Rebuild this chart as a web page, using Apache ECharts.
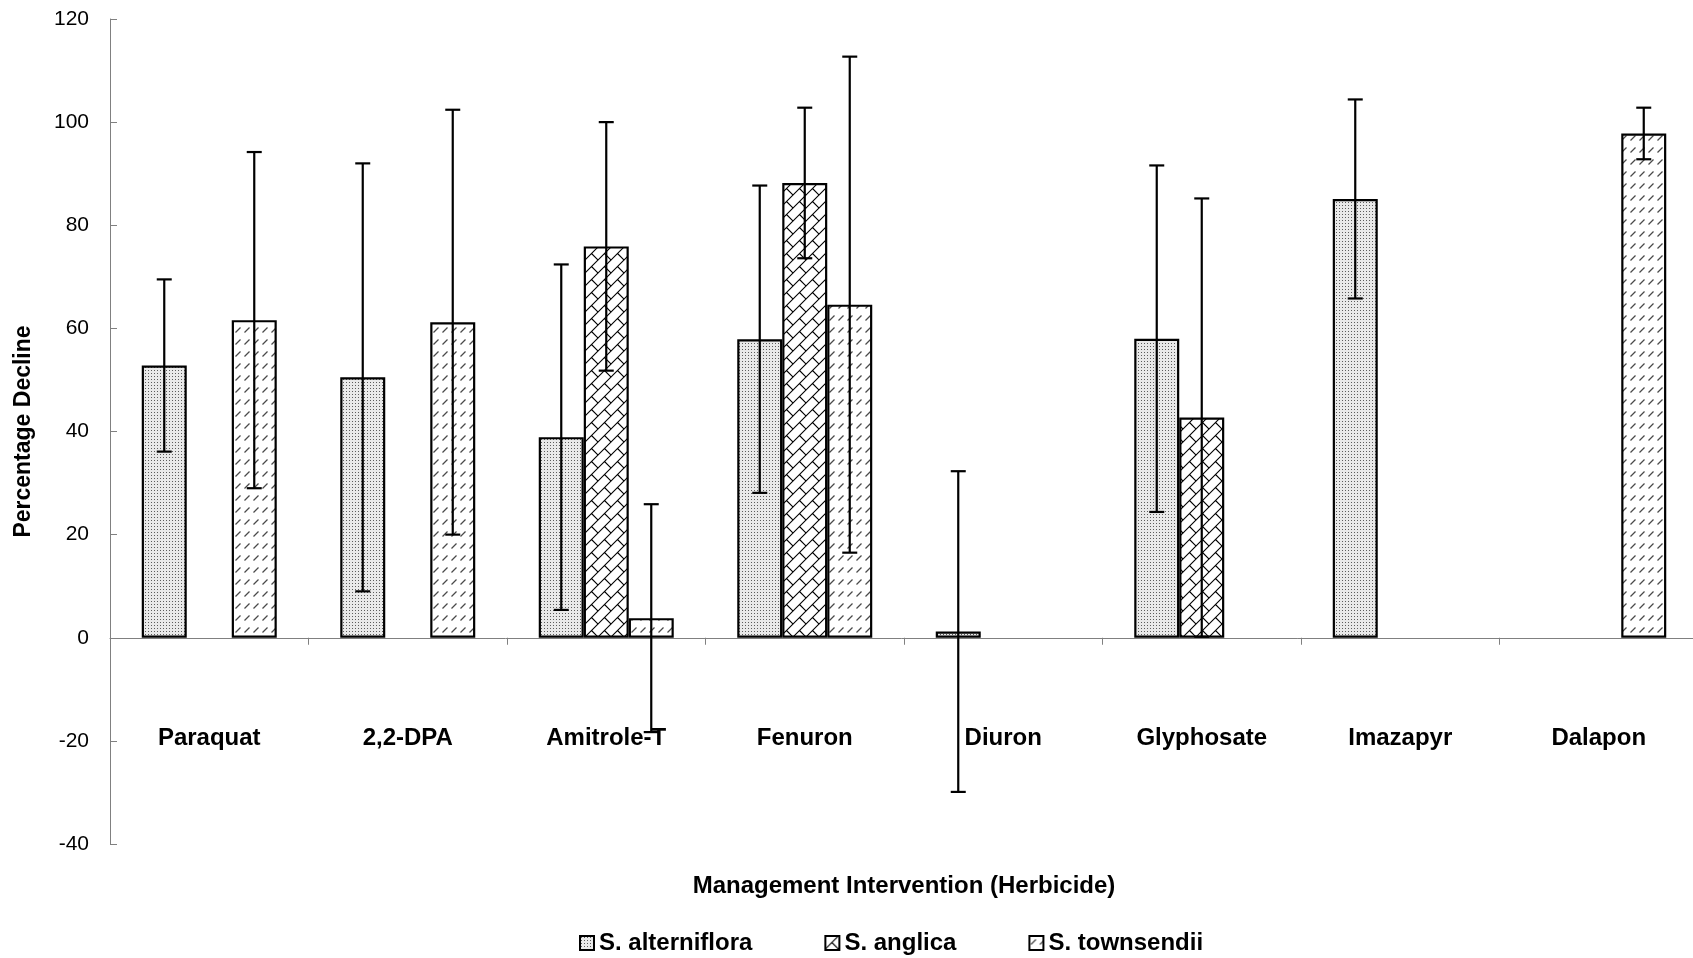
<!DOCTYPE html>
<html>
<head>
<meta charset="utf-8">
<script src="https://cdn.jsdelivr.net/npm/echarts@6/dist/echarts.min.js"></script>
<style>
  html, body { margin: 0; padding: 0; background: #fff; }
  #chart { width: 1693px; height: 958px; }
</style>
</head>
<body>
<div id="chart"></div>
<script>
// Herbicide treatments and mean percentage decline (with error) for each Spartina species
const categories = ['Paraquat', '2,2-DPA', 'Amitrole-T', 'Fenuron', 'Diuron', 'Glyphosate', 'Imazapyr', 'Dalapon'];
const speciesNames = ['S. alterniflora', 'S. anglica', 'S. townsendii'];

const alterniflora    = [52.8, 50.5, 38.9, 57.9, 1.2, 58.0, 85.1, null];
const alternifloraErr = [16.7, 41.5, 33.5, 29.8, 31.1, 33.6, 19.3, null];

const anglica    = [null, null, 75.9, 88.2, null, 42.7, null, null];
const anglicaErr = [null, null, 24.1, 14.6, null, 42.5, null, null];

const townsendii    = [61.6, 61.2, 3.8, 64.6, null, null, null, 97.8];
const townsendiiErr = [32.6, 41.2, 22.1, 48.1, null, null, null, 5.0];

const yTicks = { min: -40, max: 120, interval: 20 };

// ---- fill patterns ----
function makeTile(w, h, draw) {
  const c = document.createElement('canvas');
  c.width = w; c.height = h;
  const ctx = c.getContext('2d');
  draw(ctx, w, h);
  return c;
}

// fine dotted grey
const dotTile = makeTile(3, 3, (ctx) => {
  ctx.fillStyle = '#e9e9e9';
  ctx.fillRect(0, 0, 3, 3);
  ctx.fillStyle = '#5c5c5c';
  ctx.fillRect(1, 1, 1, 1);
});

// diagonal brick
const brickTile = makeTile(13, 13, (ctx, S) => {
  ctx.fillStyle = '#fff';
  ctx.fillRect(0, 0, S, S);
  ctx.strokeStyle = '#000';
  ctx.lineWidth = 1.1;
  for (const dx of [-S, 0, S]) {
    for (const dy of [-S, 0, S]) {
      ctx.beginPath();
      ctx.moveTo(dx, dy + S); ctx.lineTo(dx + S, dy);
      ctx.moveTo(dx + S / 2, dy + S / 2); ctx.lineTo(dx + S, dy + S);
      ctx.stroke();
    }
  }
});

// dashed upward diagonal
const dashTile = makeTile(9, 12, (ctx, w, h) => {
  ctx.fillStyle = '#fff';
  ctx.fillRect(0, 0, w, h);
  ctx.strokeStyle = '#4a4a4a';
  ctx.lineWidth = 1.3;
  ctx.beginPath();
  ctx.moveTo(1.5, 8.5); ctx.lineTo(6.5, 3.5);
  ctx.stroke();
});

const BAR_W = 45;
const CAP = 7.5;
const FONT = "'Liberation Sans', Arial, sans-serif";

function barSeries(name, values, tile) {
  return {
    name,
    type: 'bar',
    data: values,
    barWidth: BAR_W,
    barGap: '0%',
    itemStyle: {
      color: { image: tile, repeat: 'repeat' },
      borderColor: '#000',
      borderWidth: 2.2
    },
    emphasis: { disabled: true },
    z: 2
  };
}

function errorSeries(slot, values, errs) {
  const data = [];
  values.forEach((v, i) => {
    if (v != null && errs[i] != null) data.push([i, v, errs[i]]);
  });
  const lineStyle = { stroke: '#000', lineWidth: 2.2 };
  return {
    type: 'custom',
    z: 10,
    silent: true,
    data,
    encode: { x: 0, y: 1 },
    renderItem(params, api) {
      const i = api.value(0), v = api.value(1), e = api.value(2);
      const hi = api.coord([i, v + e]);
      const lo = api.coord([i, v - e]);
      const x = hi[0] + (slot - 1) * BAR_W;
      return {
        type: 'group',
        children: [
          { type: 'line', shape: { x1: x, y1: hi[1], x2: x, y2: lo[1] }, style: lineStyle },
          { type: 'line', shape: { x1: x - CAP, y1: hi[1], x2: x + CAP, y2: hi[1] }, style: lineStyle },
          { type: 'line', shape: { x1: x - CAP, y1: lo[1], x2: x + CAP, y2: lo[1] }, style: lineStyle }
        ]
      };
    }
  };
}

const chart = echarts.init(document.getElementById('chart'), null, { renderer: 'canvas' });

chart.setOption({
  animation: false,
  backgroundColor: '#fff',
  textStyle: { fontFamily: FONT },
  grid: { left: 110, top: 19, width: 1588, height: 825, outerBoundsMode: 'none' },
  legend: {
    data: speciesNames,
    left: 574,
    top: 926,
    icon: 'rect',
    itemWidth: 14,
    itemHeight: 14,
    itemGap: 72,
    selectedMode: false,
    textStyle: { fontFamily: FONT, fontSize: 24, fontWeight: 'bold', color: '#000' }
  },
  xAxis: {
    type: 'category',
    data: categories,
    name: 'Management Intervention (Herbicide)',
    nameLocation: 'middle',
    nameGap: 30,
    nameTextStyle: { fontFamily: FONT, fontSize: 24, fontWeight: 'bold', color: '#000' },
    axisLine: { onZero: true, lineStyle: { color: '#808080', width: 1 } },
    axisTick: { show: true, length: 7, lineStyle: { color: '#808080' } },
    axisLabel: { interval: 0, margin: -118, fontFamily: FONT, fontSize: 24, fontWeight: 'bold', color: '#000' },
    splitLine: { show: false }
  },
  yAxis: {
    type: 'value',
    min: yTicks.min,
    max: yTicks.max,
    interval: yTicks.interval,
    name: 'Percentage Decline',
    nameLocation: 'middle',
    nameGap: 75,
    nameTextStyle: { fontFamily: "'Liberation Sans Narrow', " + FONT, fontSize: 23, fontWeight: 'bold', color: '#000' },
    axisLine: { show: true, lineStyle: { color: '#808080', width: 1 } },
    axisTick: { show: true, inside: true, length: 7, lineStyle: { color: '#808080' } },
    axisLabel: { margin: 21, fontFamily: FONT, fontSize: 21, color: '#000' },
    splitLine: { show: false }
  },
  series: [
    barSeries(speciesNames[0], alterniflora, dotTile),
    barSeries(speciesNames[1], anglica, brickTile),
    barSeries(speciesNames[2], townsendii, dashTile),
    errorSeries(0, alterniflora, alternifloraErr),
    errorSeries(1, anglica, anglicaErr),
    errorSeries(2, townsendii, townsendiiErr)
  ]
});
</script>
</body>
</html>
